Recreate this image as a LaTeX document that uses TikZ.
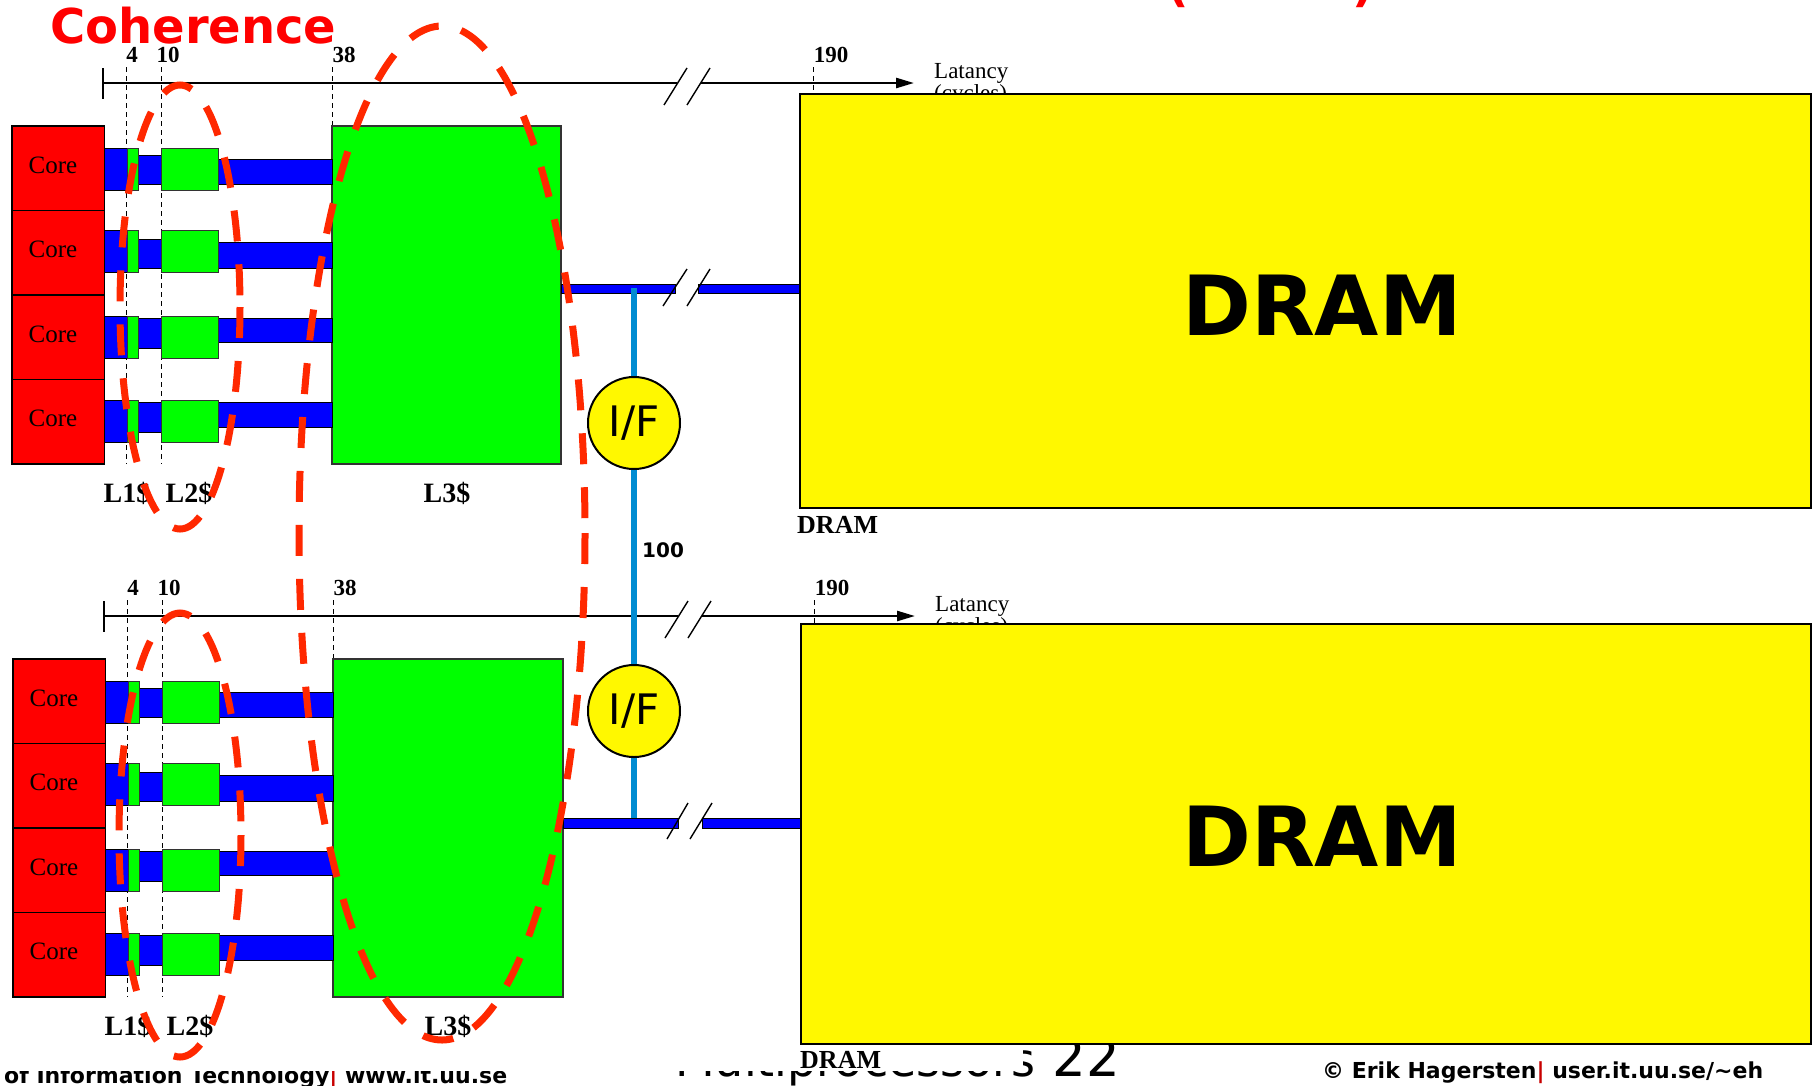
\documentclass[tikz,border=0pt]{standalone}
\usepackage{fontspec}
\setmainfont{Liberation Serif}
\newfontfamily\vsans{DejaVu Sans}
\usetikzlibrary{arrows.meta}
\definecolor{coreRed}{RGB}{255,0,0}
\definecolor{cacheGreen}{RGB}{0,255,0}
\definecolor{busBlue}{RGB}{0,0,255}
\definecolor{dramYellow}{RGB}{255,248,0}
\definecolor{linkBlue}{RGB}{0,140,210}
\definecolor{ovalRed}{RGB}{255,40,0}
\definecolor{footRed}{RGB}{200,0,0}
\newcommand\fs[1]{\fontsize{#1}{#1}\selectfont}
\tikzset{
  corebox/.style={draw=black, line width=1.2pt, fill=coreRed, inner sep=0pt, outer sep=0pt, anchor=north west, minimum width=92.5pt, minimum height=84.5pt},
  coretxt/.style={font=\fs{25}, inner sep=0pt, anchor=base},
  cachebox/.style={draw=black!80, line width=1pt, fill=cacheGreen, inner sep=0pt, outer sep=0pt, anchor=north west, minimum height=42pt},
  l3box/.style={draw=black!80, line width=1.2pt, fill=cacheGreen, inner sep=0pt, outer sep=0pt, anchor=north west, minimum height=338pt},
  busbar/.style={fill=busBlue, draw=black, line width=0.8pt},
  tickline/.style={draw=black, line width=1pt, dash pattern=on 5pt off 4pt},
  axisline/.style={draw=black, line width=2.5pt},
  breakmark/.style={draw=black, line width=1.4pt},
  numlbl/.style={font=\bfseries\fs{23}, inner sep=0pt, anchor=base},
  levellbl/.style={font=\bfseries\fs{28}, inner sep=0pt, anchor=base},
  latlbl/.style={font=\fs{23}, inner sep=0pt, anchor=base west},
  drambox/.style={draw=black, line width=2pt, fill=dramYellow, inner sep=0pt, outer sep=0pt, anchor=north west},
  dramtxt/.style={font=\vsans\bfseries\fs{83}, inner sep=0pt, anchor=base},
  dramlbl/.style={font=\bfseries\fs{26}, inner sep=0pt, anchor=base west},
  ifnode/.style={circle, draw=black, line width=2pt, fill=dramYellow, minimum size=92pt, inner sep=0pt, font=\vsans\fs{42}},
  linkline/.style={draw=linkBlue, line width=6pt},
  oval/.style={draw=ovalRed, line width=7pt, dash pattern=on 31pt off 23pt},
  foottxt/.style={font=\vsans\bfseries\fs{22}, inner sep=0pt, anchor=base west},
  slidetxt/.style={font=\vsans\fs{46}, inner sep=0pt, anchor=base east},
  titlefrag/.style={font=\vsans\bfseries\fs{47}, text=coreRed, inner sep=0pt, anchor=base west},
}
\newcommand\cachesection[4]{%
\begin{scope}[shift={(#2,#3)}]
  \draw[tickline] (126,67) -- (126,464);
  \draw[tickline] (161,67) -- (161,464);
  \draw[tickline] (332,67) -- (332,126);
  \draw[tickline] (813,67) -- (813,94);
  \coordinate (#1ax0) at (103,83);
  \coordinate (#1axbA) at (677,83);
  \coordinate (#1axbB) at (701,83);
  \coordinate (#1axend) at (914,83);
  \draw[axisline] (103,68) -- (103,99);
  \draw[axisline] (#1ax0) -- (#1axbA);
  \draw[axisline,-{Triangle[length=18pt,width=10pt]}] (#1axbB) -- (#1axend);
  \draw[breakmark] (664,105) -- (687,68);
  \draw[breakmark] (687,105) -- (710,68);
  \node[numlbl] (#1n4) at (132,62) {4};
  \node[numlbl] (#1n10) at (168,62) {10};
  \node[numlbl] (#1n38) at (344,62) {38};
  \node[numlbl] (#1n190) at (831,62) {190};
  \node[latlbl] (#1lat) at (934,78) {Latancy};
  \node[latlbl] (#1cyc) at (934,100) {(cycles)};
  \node[l3box, minimum width=#4] (#1l3) at (332,126) {};
  \foreach \i/\a/\na/\nb/\la/\lb in {1/22/29/58/33/58, 2/20/29/58/32/58, 3/21.5/23/53/23/47.5, 4/21/23/53/23/48}{
    \pgfmathsetmacro\T{126+84.5*(\i-1)}
    \filldraw[busbar] (104.5,\T+\a) rectangle (127,\T+\a+42);
    \filldraw[busbar] (138,\T+\na) rectangle (161,\T+\nb);
    \filldraw[busbar] (218,\T+\la) rectangle (332,\T+\lb);
    \node[cachebox, minimum width=11pt] (#1lone\i) at (127,\T+\a) {};
    \node[cachebox, minimum width=57pt] (#1ltwo\i) at (161,\T+\a) {};
    \node[corebox] (#1core\i) at (12,\T) {};
    \node[coretxt] (#1coret\i) at (53,\T+47) {Core};
  }
  \node[levellbl] (#1lab1) at (127,502) {L1\$};
  \node[levellbl] (#1lab2) at (189,502) {L2\$};
  \node[levellbl] (#1lab3) at (447,502) {L3\$};
\end{scope}}
\begin{document}
\begin{tikzpicture}[x=1pt,y=-1pt]
\useasboundingbox (0,0) rectangle (1814,1085);
\fill[white] (0,0) rectangle (1814,1085);
% slide fragments behind the figure
\node[titlefrag] (parL) at (1167,1) {(};
\node[titlefrag] (parR) at (1352,1) {)};
\node[foottxt] (footL) at (4,1083) {of Information Technology{\color{footRed}|} www.it.uu.se};
\node[foottxt] (footR) at (1322,1078) {\textcopyright{} Erik Hagersten{\color{footRed}|} user.it.uu.se/\textasciitilde eh};
\node[slidetxt] (slideT) at (1120,1076) {Multiprocessors{\fs{53} 22}};
\fill[white] (0,0) rectangle (1023,1071);
% two cache hierarchies
\cachesection{A}{0}{0}{229pt}
\cachesection{B}{1}{533}{230pt}
% buses
\filldraw[busbar] (Al3.east |- 0,284) rectangle (675,293);
\filldraw[busbar] (698,284) rectangle (800,293);
\filldraw[busbar] (Bl3.east |- 0,818) rectangle (678,828);
\filldraw[busbar] (702,818) rectangle (801,828);
\draw[breakmark] (663,306) -- (687,269);
\draw[breakmark] (687,306) -- (710,269);
\draw[breakmark] (667,839) -- (688,803);
\draw[breakmark] (690,839) -- (712,803);
\coordinate (linkTop) at (634,288);
\coordinate (linkBot) at (634,818);
\draw[linkline] (linkTop) -- (linkBot);
\node[ifnode] (ifA) at (634,423) {I/F};
\node[ifnode] (ifB) at (634,711) {I/F};
\node[font=\vsans\bfseries\fs{20}, inner sep=0pt, anchor=base west] (lat100) at (642,557) {100};
% DRAM
\node[drambox, minimum width=1011pt, minimum height=414pt] (dramA) at (800,94) {};
\node[drambox, minimum width=1010pt, minimum height=420pt] (dramB) at (801,624) {};
\node[dramtxt] (dramAt) at (1322,335) {DRAM};
\node[dramtxt] (dramBt) at (1322,866) {DRAM};
\node[dramlbl] (dramAl) at (797,533) {DRAM};
\node[dramlbl] (dramBl) at (800,1068) {DRAM};
% coherence ovals
\draw[oval] (180,307) ellipse [x radius=60, y radius=222];
\draw[oval] (180,835) ellipse [x radius=61, y radius=222];
\draw[oval] (442,533) ellipse [x radius=143, y radius=507];
\node[font=\vsans\bfseries\fs{48}, text=coreRed, inner sep=0pt, anchor=base west] (coh) at (50,43) {Coherence};
\end{tikzpicture}
\end{document}
